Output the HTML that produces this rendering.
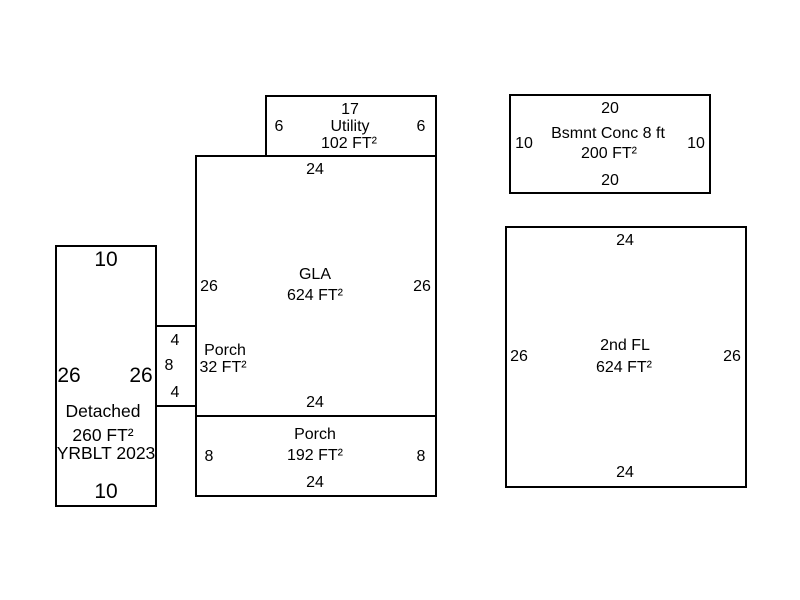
<!DOCTYPE html>
<html><head><style>
html,body{margin:0;padding:0;background:#fff;}
svg{display:block;}
text{font-family:"Liberation Sans",Arial,sans-serif;fill:#000;text-anchor:middle;}
</style></head><body>
<svg width="800" height="600" viewBox="0 0 800 600">
<g fill="none" stroke="#000" stroke-width="2">
<rect x="266" y="96" width="170" height="60"/>
<rect x="196" y="156" width="240" height="260"/>
<rect x="196" y="416" width="240" height="80"/>
<rect x="156" y="326" width="40" height="80"/>
<rect x="56" y="246" width="100" height="260"/>
<rect x="510" y="95" width="200" height="98"/>
<rect x="506" y="227" width="240" height="260"/>
</g>
<g font-size="16">
<text x="350" y="114">17</text>
<text x="350" y="131">Utility</text>
<text x="349" y="148">102 FT²</text>
<text x="279" y="131">6</text>
<text x="421" y="131">6</text>
<text x="315" y="174">24</text>
<text x="315" y="279">GLA</text>
<text x="315" y="300">624 FT²</text>
<text x="209" y="291">26</text>
<text x="422" y="291">26</text>
<text x="315" y="407">24</text>
<text x="225" y="355">Porch</text>
<text x="223" y="372">32 FT²</text>
<text x="175" y="345">4</text>
<text x="169" y="370">8</text>
<text x="175" y="397">4</text>
<text x="315" y="439">Porch</text>
<text x="315" y="460">192 FT²</text>
<text x="209" y="461">8</text>
<text x="421" y="461">8</text>
<text x="315" y="487">24</text>
<text x="610" y="113">20</text>
<text x="608" y="138">Bsmnt Conc 8 ft</text>
<text x="609" y="158">200 FT²</text>
<text x="524" y="148">10</text>
<text x="696" y="148">10</text>
<text x="610" y="185">20</text>
<text x="625" y="245">24</text>
<text x="625" y="350">2nd FL</text>
<text x="624" y="372">624 FT²</text>
<text x="519" y="361">26</text>
<text x="732" y="361">26</text>
<text x="625" y="477">24</text>
</g>
<g font-size="21">
<text x="106" y="266">10</text>
<text x="69" y="382">26</text>
<text x="141" y="382">26</text>
<text x="106" y="498">10</text>
</g>
<g font-size="17.5">
<text x="103" y="417">Detached</text>
<text x="103" y="441">260 FT²</text>
<text x="106" y="459">YRBLT 2023</text>
</g>
</svg>
</body></html>
